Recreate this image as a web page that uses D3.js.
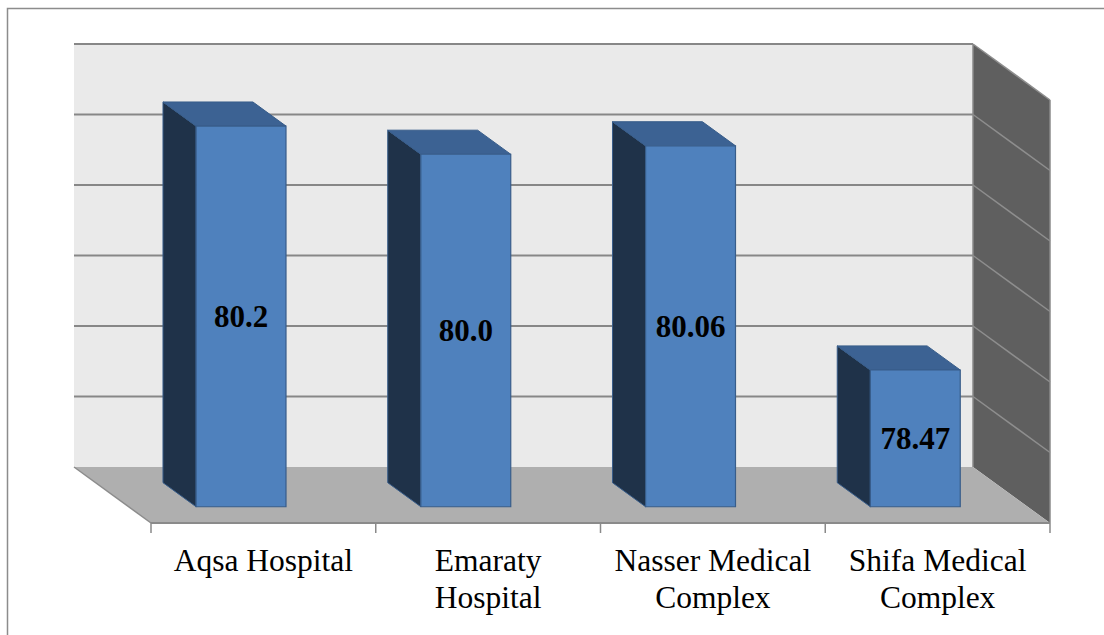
<!DOCTYPE html>
<html>
<head>
<meta charset="utf-8">
<script src="https://cdn.jsdelivr.net/npm/d3@7"></script>
<style>
    html, body { margin: 0; padding: 0; background: #fff; }
    svg { display: block; }
    .cat { font-family: "Liberation Serif", "Times New Roman", serif; font-size: 31.5px; fill: #000; }
    .val { font-family: "Liberation Serif", "Times New Roman", serif; font-size: 31px; font-weight: bold; fill: #000; }
</style>
</head>
<body>
<div id="chart"></div>
<script>
'use strict';

var categories = ['Aqsa Hospital', 'Emaraty Hospital', 'Nasser Medical Complex', 'Shifa Medical Complex'];
var values = [80.2, 80.0, 80.06, 78.47];
var valueLabels = ['80.2', '80.0', '80.06', '78.47'];
var yDomain = [77.5, 80.5];

var W = 1104, H = 635;
// depth of the plot box in screen pixels
var DX = 77, DY = 56;
// bar occupies this slice of the depth (0 = back wall, 1 = front edge)
var D_BACK = 0.28, D_FRONT = 0.71;

var svg = d3.select('#chart').append('svg')
    .attr('width', W)
    .attr('height', H);

var x = d3.scaleBand()
    .domain(categories)
    .range([74, 973])
    .padding(0);

var y = d3.scaleLinear()
    .domain(yDomain)
    .range([467, 44]);

function proj(px, py, d) {
    return [px + d * DX, py + d * DY];
}

function poly(pts) {
    return 'M' + pts.map(function(p){ return p[0] + ',' + p[1]; }).join('L') + 'Z';
}

var x0 = x.range()[0], x1 = x.range()[1];
var yb = y(yDomain[0]), yt = y(yDomain[1]);

// back wall
svg.append('path')
    .attr('d', poly([[x0, yt], [x1, yt], [x1, yb], [x0, yb]]))
    .attr('fill', '#eaeaea');

// side wall
svg.append('path')
    .attr('d', poly([[x1, yt], proj(x1, yt, 1), proj(x1, yb, 1), [x1, yb]]))
    .attr('fill', '#5f5f5f');

// floor
svg.append('path')
    .attr('d', poly([[x0, yb], [x1, yb], proj(x1, yb, 1), proj(x0, yb, 1)]))
    .attr('fill', '#afafaf');

// floor left edge
svg.append('line')
    .attr('x1', x0).attr('y1', yb)
    .attr('x2', proj(x0, yb, 1)[0]).attr('y2', proj(x0, yb, 1)[1])
    .attr('stroke', '#8c8c8c')
    .attr('stroke-width', 1.5);

// gridlines
var ticks = y.ticks(6).filter(function(t){ return t > yDomain[0]; });

svg.append('g').selectAll('line')
    .data(ticks)
    .join('line')
    .attr('x1', x0)
    .attr('x2', x1)
    .attr('y1', function(d){ return y(d); })
    .attr('y2', function(d){ return y(d); })
    .attr('stroke', '#878787')
    .attr('stroke-width', 2);

svg.append('g').selectAll('line')
    .data(ticks)
    .join('line')
    .attr('x1', x1)
    .attr('y1', function(d){ return y(d); })
    .attr('x2', function(d){ return proj(x1, y(d), 1)[0]; })
    .attr('y2', function(d){ return proj(x1, y(d), 1)[1]; })
    .attr('stroke', '#8e8e8e')
    .attr('stroke-width', 1.5);

// side wall edges
svg.append('line')
    .attr('x1', x1).attr('y1', yt).attr('x2', x1).attr('y2', yb)
    .attr('stroke', '#8a8a8a').attr('stroke-width', 1.5);
svg.append('line')
    .attr('x1', proj(x1, yt, 1)[0]).attr('y1', proj(x1, yt, 1)[1])
    .attr('x2', proj(x1, yb, 1)[0]).attr('y2', proj(x1, yb, 1)[1])
    .attr('stroke', '#8a8a8a').attr('stroke-width', 1.5);

// bars
var barW = x.bandwidth() * 0.4;
var bars = svg.append('g').selectAll('g')
    .data(categories)
    .join('g');

function barBox(c, i) {
    var l = x(c) + (x.bandwidth() - barW) / 2;
    var r = l + barW;
    var top = y(values[i]);
    return { l: l, r: r, top: top, bot: yb };
}

// left face
bars.append('path')
    .attr('d', function(c, i){
        var b = barBox(c, i);
        return poly([proj(b.l, b.top, D_BACK), proj(b.l, b.top, D_FRONT),
                     proj(b.l, b.bot, D_FRONT), proj(b.l, b.bot, D_BACK)]);
    })
    .attr('fill', '#1f3249')
    .attr('stroke', '#385d8a')
    .attr('stroke-width', 1);

// top face
bars.append('path')
    .attr('d', function(c, i){
        var b = barBox(c, i);
        return poly([proj(b.l, b.top, D_BACK), proj(b.r, b.top, D_BACK),
                     proj(b.r, b.top, D_FRONT), proj(b.l, b.top, D_FRONT)]);
    })
    .attr('fill', '#3c6293')
    .attr('stroke', '#385d8a')
    .attr('stroke-width', 1);

// front face
bars.append('path')
    .attr('d', function(c, i){
        var b = barBox(c, i);
        return poly([proj(b.l, b.top, D_FRONT), proj(b.r, b.top, D_FRONT),
                     proj(b.r, b.bot, D_FRONT), proj(b.l, b.bot, D_FRONT)]);
    })
    .attr('fill', '#4f81bd')
    .attr('stroke', '#385d8a')
    .attr('stroke-width', 1.2);

// value labels
bars.append('text')
    .attr('class', 'val')
    .attr('text-anchor', 'middle')
    .attr('dominant-baseline', 'central')
    .attr('x', function(c, i){
        var b = barBox(c, i);
        return (b.l + b.r) / 2 + D_FRONT * DX;
    })
    .attr('y', function(c, i){
        var b = barBox(c, i);
        return (b.top + b.bot) / 2 + D_FRONT * DY;
    })
    .text(function(c, i){ return valueLabels[i]; });

// category axis on the front edge
var fy = yb + DY;
svg.append('line')
    .attr('x1', x0 + DX).attr('y1', fy)
    .attr('x2', x1 + DX).attr('y2', fy)
    .attr('stroke', '#8a8a8a')
    .attr('stroke-width', 2);

var bounds = categories.map(function(c){ return x(c); }).concat([x1]);
svg.append('g').selectAll('line')
    .data(bounds)
    .join('line')
    .attr('x1', function(d){ return d + DX; })
    .attr('x2', function(d){ return d + DX; })
    .attr('y1', fy)
    .attr('y2', fy + 10)
    .attr('stroke', '#8a8a8a')
    .attr('stroke-width', 1.5);

var labels = svg.append('g').selectAll('text')
    .data(categories)
    .join('text')
    .attr('class', 'cat')
    .attr('text-anchor', 'middle')
    .attr('x', function(c){ return x(c) + x.bandwidth() / 2 + DX; })
    .attr('y', 571);

labels.each(function(c){
    var t = d3.select(this);
    var words = c.split(' ');
    var line = [];
    var lines = [];
    var probe = t.append('tspan');
    words.forEach(function(w){
        line.push(w);
        probe.text(line.join(' '));
        if (probe.node().getComputedTextLength() > 212 && line.length > 1) {
            line.pop();
            lines.push(line.join(' '));
            line = [w];
        }
    });
    lines.push(line.join(' '));
    probe.remove();
    lines.forEach(function(l, k){
        t.append('tspan')
            .attr('x', t.attr('x'))
            .attr('dy', k === 0 ? 0 : 36.5)
            .text(l);
    });
});

// chart border
svg.append('rect')
    .attr('x', 7.5).attr('y', 8.5)
    .attr('width', W + 20).attr('height', H + 20)
    .attr('fill', 'none')
    .attr('stroke', '#8c8c8c')
    .attr('stroke-width', 1.5);
</script>
</body>
</html>
